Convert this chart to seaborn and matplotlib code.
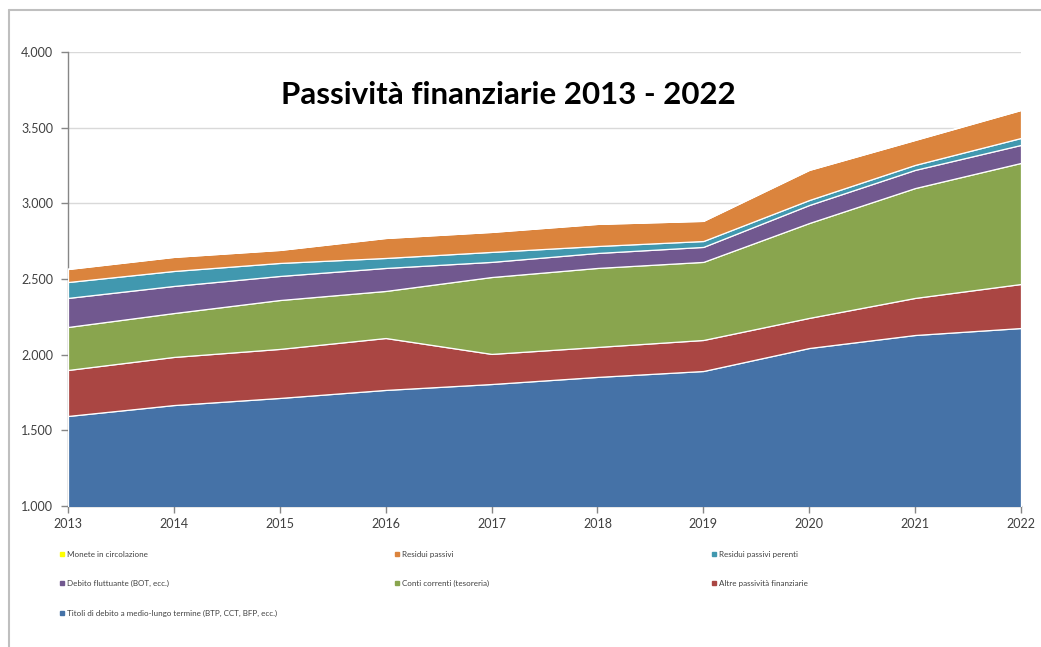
import matplotlib

matplotlib.use("Agg")

import matplotlib.pyplot as plt
import pandas as pd
import seaborn as sns
from matplotlib.lines import Line2D
from matplotlib.ticker import FuncFormatter

# values (stack order bottom -> top)
years = [2013, 2014, 2015, 2016, 2017, 2018, 2019, 2020, 2021, 2022]
titoli = [1595, 1667, 1714, 1767, 1806, 1853, 1892, 2044, 2130, 2176]
altre = [304, 318, 324, 343, 199, 198, 205, 199, 245, 291]
conti = [284, 290, 323, 311, 508, 522, 516, 627, 726, 800]
debito = [192, 179, 159, 152, 100, 99, 99, 119, 120, 119]
perenti = [105, 99, 86, 66, 66, 46, 39, 33, 33, 46]
residui = [86, 93, 86, 132, 132, 146, 133, 199, 165, 185]
monete = [3, 3, 3, 3, 3, 3, 3, 3, 3, 3]

labels = [
    "Titoli di debito a medio-lungo termine (BTP, CCT, BFP, ecc.)",
    "Altre passività finanziarie",
    "Conti correnti (tesoreria)",
    "Debito fluttuante (BOT, ecc.)",
    "Residui passivi perenti",
    "Residui passivi",
    "Monete in circolazione",
]
colors = ["#4572A7", "#AA4643", "#89A54E", "#71588F", "#4198AF", "#DB843D", "#FFFF00"]

df = pd.DataFrame(
    dict(zip(labels, [titoli, altre, conti, debito, perenti, residui, monete])),
    index=years,
)

sns.set_theme(style="white")
plt.rcParams["font.family"] = ["Lato", "DejaVu Sans"]

fig = plt.figure(figsize=(10.41, 6.47), dpi=100)
ax = fig.add_axes([68 / 1041, 1 - 506 / 647, (1021 - 68) / 1041, (506 - 52) / 647])

ax.stackplot(
    df.index,
    *[df[c].values for c in labels],
    colors=colors,
    edgecolor="white",
    linewidth=0.9,
    zorder=3,
)

ax.set_xlim(2013, 2022)
ax.set_ylim(1000, 4000)
ax.set_yticks(range(1000, 4001, 500))
ax.set_xticks(years)
ax.yaxis.set_major_formatter(FuncFormatter(lambda v, _: f"{int(v):,}".replace(",", ".")))
ax.grid(axis="y", color="#d9d9d9", linewidth=1.0, zorder=0)
ax.grid(axis="x", visible=False)
sns.despine(ax=ax)
for side in ("left", "bottom"):
    ax.spines[side].set_color("#868686")
    ax.spines[side].set_linewidth(1.0)
ax.tick_params(axis="both", which="major", direction="out", length=5, width=1,
               color="#868686", left=True, bottom=True)
ax.tick_params(axis="y", labelsize=9, labelcolor="#404040", pad=5.5)
ax.tick_params(axis="x", labelsize=9, labelcolor="#404040", pad=4)

ax.text(0.462, 0.905, "Passività finanziarie 2013 - 2022", transform=ax.transAxes,
        ha="center", va="center", fontsize=22.5, fontweight="bold", color="black")

# legend: three columns laid out row by row like the original
handles = {lab: Line2D([], [], marker="s", linestyle="none", markersize=3.5,
                       markerfacecolor=col, markeredgecolor=col)
           for lab, col in zip(labels, colors)}
columns = [
    (62, [labels[6], labels[3], labels[0]]),
    (397, [labels[5], labels[2]]),
    (714, [labels[4], labels[1]]),
]
for xpix, col_labels in columns:
    fig.legend(
        [handles[l] for l in col_labels],
        col_labels,
        loc="upper left",
        bbox_to_anchor=(xpix / 1041 - 0.002, 1 - 551 / 647),
        frameon=False,
        prop={"size": 5.8},
        labelcolor="#404040",
        handlelength=0.6,
        handletextpad=0.3,
        labelspacing=2.75,
        borderaxespad=0,
        borderpad=0,
    )

# outer chart frame (top and left edges visible in the reference)
fig.add_artist(Line2D([9 / 1041, 1], [1 - 10 / 647, 1 - 10 / 647], color="#bfbfbf", linewidth=1.5))
fig.add_artist(Line2D([9 / 1041, 9 / 1041], [0, 1 - 10 / 647], color="#bfbfbf", linewidth=1.5))

fig.savefig("out.png", dpi=100)
plt.close(fig)
